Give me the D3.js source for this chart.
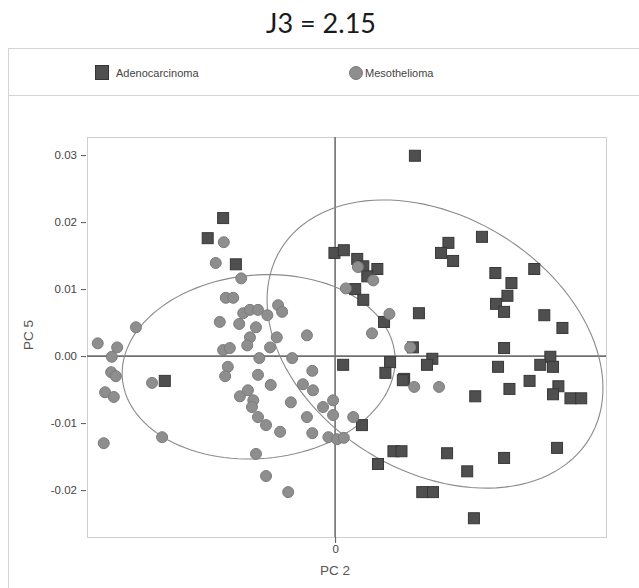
<!DOCTYPE html>
<html>
<head>
<meta charset="utf-8">
<script src="https://cdn.jsdelivr.net/npm/d3@7"></script>
<style>
  body { margin: 0; background: #fff; }
  text { font-family: "Liberation Sans", Arial, sans-serif; }
</style>
</head>
<body>
<div id="chart"></div>
<script>

// PC 2 / PC 5 scores
var adenoX = [0.0119, 0.0219, 0.0169, 0.0158, 0.0176, 0.0239, 0.0297, 0.0263, 0.0257, 0.0240,
	0.0252, 0.0125, 0.0312, 0.0339, 0.0116, 0.0252, 0.0145, 0.0137, 0.0243, 0.0321,
	0.0306, 0.0325, 0.0103, 0.0209, 0.0260, 0.0290, 0.0333, 0.0325, 0.0351, 0.0367,
	0.0331, 0.0167, 0.0252, 0.0197, 0.0130, 0.0146, 0.0207, 0.0087, 0.0099, 0.0064,
	0.0040, 0.0012, 0.0082, 0.0075, 0.0101, 0.0073, -0.0001, 0.0013, 0.0033, 0.0042,
	0.0063, 0.0048, 0.0030, 0.0042, -0.0167, -0.0190, -0.0148, -0.0254];
var adenoY = [0.0299, 0.0178, 0.0169, 0.0154, 0.0142, 0.0124, 0.0130, 0.0109, 0.0090, 0.0078,
	0.0066, 0.0064, 0.0061, 0.0042, 0.0013, 0.0012, -0.0004, -0.0013, -0.0016, -0.0001,
	-0.0013, -0.0016, -0.0034, -0.0060, -0.0049, -0.0037, -0.0045, -0.0057, -0.0063, -0.0063,
	-0.0137, -0.0145, -0.0152, -0.0172, -0.0203, -0.0203, -0.0242, -0.0142, -0.0142, -0.0161,
	-0.0103, -0.0013, -0.0009, -0.0025, -0.0036, 0.0051, 0.0154, 0.0158, 0.0145, 0.0134,
	0.0130, 0.0119, 0.0100, 0.0084, 0.0206, 0.0176, 0.0137, -0.0037];

var mesoX = [-0.0354, -0.0325, -0.0333, -0.0297, -0.0334, -0.0327, -0.0343, -0.0330, -0.0273, -0.0258,
	-0.0345, -0.0166, -0.0178, -0.0140, -0.0163, -0.0152, -0.0085, -0.0079, -0.0137, -0.0127,
	-0.0115, -0.0101, -0.0172, -0.0143, -0.0118, -0.0127, -0.0131, -0.0097, -0.0087, -0.0042,
	-0.0167, -0.0157, -0.0113, -0.0064, -0.0160, -0.0164, -0.0115, -0.0096, -0.0034, -0.0048,
	-0.0033, -0.0142, -0.0130, -0.0122, -0.0124, -0.0066, -0.0003, -0.0018, -0.0115, -0.0103,
	-0.0082, -0.0042, -0.0003, 0.0027, -0.0034, -0.0010, 0.0003, 0.0013, -0.0118, -0.0103,
	-0.0070, 0.0016, 0.0034, 0.0057, 0.0081, 0.0055, 0.0112, 0.0118, 0.0155];
var mesoY = [0.0019, 0.0013, -0.0001, 0.0043, -0.0024, -0.0030, -0.0054, -0.0061, -0.0040, -0.0121,
	-0.0130, 0.0170, 0.0139, 0.0116, 0.0087, 0.0087, 0.0076, 0.0066, 0.0064, 0.0069,
	0.0069, 0.0061, 0.0051, 0.0048, 0.0043, 0.0028, 0.0016, 0.0013, 0.0028, 0.0031,
	0.0009, 0.0012, -0.0003, -0.0003, -0.0016, -0.0030, -0.0028, -0.0043, -0.0022, -0.0042,
	-0.0051, -0.0060, -0.0051, -0.0066, -0.0076, -0.0069, -0.0066, -0.0076, -0.0091, -0.0103,
	-0.0113, -0.0091, -0.0088, -0.0091, -0.0115, -0.0121, -0.0124, -0.0122, -0.0146, -0.0179,
	-0.0203, 0.0101, 0.0133, 0.0113, 0.0063, 0.0034, 0.0013, -0.0046, -0.0046];

// confidence ellipses: centre x, centre y, semi axes, rotation (deg)
var ellipseNames = ["Mesothelioma", "Adenocarcinoma"];
var ellipseCx = [-0.0114, 0.0149];
var ellipseCy = [-0.0016, 0.0018];
var ellipseA = [0.0204, 0.0270];
var ellipseB = [0.0137, 0.0190];
var ellipseRot = [5, -31.7];

var yTicks = [0.03, 0.02, 0.01, 0.00, -0.01, -0.02];
var yTickLabels = ["0.03", "0.02", "0.01", "0.00", "-0.01", "-0.02"];
var xTicks = [0];

var width = 639, height = 588;
var margin = {top: 137, right: 33, bottom: 51, left: 87};

var svg = d3.select("#chart").append("svg")
	.attr("width", width)
	.attr("height", height);

var x = d3.scaleLinear().domain([-0.0370, 0.0404]).range([margin.left, width - margin.right]);
var y = d3.scaleLinear().domain([-0.0270, 0.0327]).range([height - margin.bottom, margin.top]);

// title
svg.append("text")
	.attr("x", 321)
	.attr("y", 33)
	.attr("text-anchor", "middle")
	.style("font-family", "Lato, 'Open Sans', sans-serif")
	.attr("font-size", 27)
	.attr("fill", "#1a1a1a")
	.text("J3 = 2.15");

// outer frame + legend strip
svg.append("rect")
	.attr("x", 8.5).attr("y", 48.5)
	.attr("width", 660).attr("height", 600)
	.attr("fill", "none")
	.attr("stroke", "#d4d4d4");

svg.append("line")
	.attr("x1", 8).attr("x2", width)
	.attr("y1", 95.5).attr("y2", 95.5)
	.attr("stroke", "#d4d4d4");

var legend = svg.append("g");
legend.append("rect")
	.attr("x", 95.5).attr("y", 65.5)
	.attr("width", 13).attr("height", 14)
	.attr("fill", "#505050")
	.attr("stroke", "#363636");
legend.append("text")
	.attr("x", 116).attr("y", 77)
	.attr("font-size", 11)
	.attr("fill", "#444")
	.text("Adenocarcinoma");
legend.append("circle")
	.attr("cx", 356).attr("cy", 73)
	.attr("r", 6.5)
	.attr("fill", "#8e8e8e")
	.attr("stroke", "#7c7c7c");
legend.append("text")
	.attr("x", 365).attr("y", 77)
	.attr("font-size", 11)
	.attr("fill", "#444")
	.text("Mesothelioma");

// plot box
svg.append("rect")
	.attr("x", x.range()[0] + 0.5).attr("y", y.range()[1] + 0.5)
	.attr("width", x.range()[1] - x.range()[0])
	.attr("height", y.range()[0] - y.range()[1])
	.attr("fill", "none")
	.attr("stroke", "#cfcfcf");

// axes
var yAxis = svg.append("g")
	.attr("transform", "translate(" + (margin.left - 1) + ",0)")
	.call(d3.axisLeft(y).tickValues(yTicks)
		.tickFormat(function(d, i) { return yTickLabels[i]; })
		.tickSize(5).tickPadding(4));
var xAxis = svg.append("g")
	.attr("transform", "translate(0," + (height - margin.bottom) + ")")
	.call(d3.axisBottom(x).tickValues(xTicks).tickFormat(d3.format("d")).tickSize(6).tickPadding(2));

[yAxis, xAxis].forEach(function(a) {
	a.select(".domain").remove();
	a.selectAll(".tick line").attr("stroke", "#555");
	a.selectAll(".tick text").attr("fill", "#444").attr("font-size", 11.5)
		.style("font-family", "'Liberation Sans', Arial, sans-serif");
});

svg.append("text")
	.attr("transform", "translate(33,335) rotate(-90)")
	.attr("text-anchor", "middle")
	.attr("font-size", 13.5)
	.attr("fill", "#555")
	.text("PC 5");

svg.append("text")
	.attr("x", x(0))
	.attr("y", 575)
	.attr("text-anchor", "middle")
	.attr("font-size", 13.5)
	.attr("fill", "#555")
	.text("PC 2");

// zero lines
svg.append("line")
	.attr("x1", x.range()[0]).attr("x2", x.range()[1])
	.attr("y1", y(0)).attr("y2", y(0))
	.attr("stroke", "#707070").attr("stroke-width", 1.6);
svg.append("line")
	.attr("x1", x(0)).attr("x2", x(0))
	.attr("y1", y.range()[1]).attr("y2", y.range()[0])
	.attr("stroke", "#707070").attr("stroke-width", 1.6);

// ellipses
var line = d3.line().x(function(d) { return x(d[0]); }).y(function(d) { return y(d[1]); });
ellipseNames.forEach(function(name, i) {
	var phi = ellipseRot[i] * Math.PI / 180;
	var pts = d3.range(0, 361, 3).map(function(t) {
		var r = t * Math.PI / 180;
		var u = ellipseA[i] * Math.cos(r), v = ellipseB[i] * Math.sin(r);
		return [ellipseCx[i] + u * Math.cos(phi) - v * Math.sin(phi),
			ellipseCy[i] + u * Math.sin(phi) + v * Math.cos(phi)];
	});
	svg.append("path")
		.attr("d", line(pts) + "Z")
		.attr("fill", "none")
		.attr("stroke", "#8a8a8a")
		.attr("stroke-width", 1.1);
});

// points
var s = 11;
svg.append("g").selectAll("rect")
	.data(adenoX.map(function(d, i) { return [d, adenoY[i]]; }))
	.enter().append("rect")
	.attr("x", function(d) { return x(d[0]) - s / 2; })
	.attr("y", function(d) { return y(d[1]) - s / 2; })
	.attr("width", s).attr("height", s)
	.attr("fill", "#4f4f4f")
	.attr("stroke", "#383838");

svg.append("g").selectAll("circle")
	.data(mesoX.map(function(d, i) { return [d, mesoY[i]]; }))
	.enter().append("circle")
	.attr("cx", function(d) { return x(d[0]); })
	.attr("cy", function(d) { return y(d[1]); })
	.attr("r", 5.5)
	.attr("fill", "#8e8e8e")
	.attr("stroke", "#7c7c7c");

</script>
</body>
</html>
